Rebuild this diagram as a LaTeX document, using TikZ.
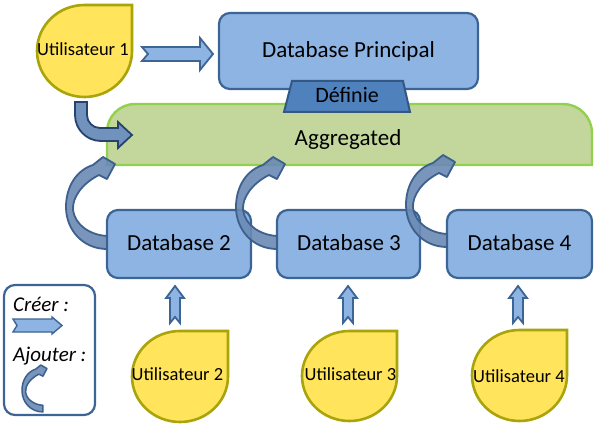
\documentclass[tikz,border=0pt]{standalone}
\usepackage{fontspec}
\setmainfont{Carlito}
\definecolor{dbfill}{RGB}{142,180,227}
\definecolor{dbline}{RGB}{60,100,148}
\definecolor{deffill}{RGB}{79,129,189}
\definecolor{defline}{RGB}{52,88,132}
\definecolor{aggfill}{RGB}{195,214,155}
\definecolor{aggline}{RGB}{146,208,80}
\definecolor{userfill}{RGB}{255,228,92}
\definecolor{userline}{RGB}{168,164,10}
\definecolor{curvfill}{RGB}{106,138,180}
\definecolor{curvline}{RGB}{62,96,140}
\definecolor{bentfill}{RGB}{114,146,190}
\definecolor{bentline}{RGB}{38,66,110}
\tikzset{
  dbbox/.style={draw=dbline, fill=dbfill, line width=2.2pt, rounded corners=11pt, inner sep=0pt},
  userdrop/.style={draw=userline, fill=userfill, line width=2.6pt},
  usertxt/.style={anchor=base, font=\fontsize{18.5}{20}\selectfont, inner sep=0pt},
  bigtxt/.style={anchor=base, font=\fontsize{23}{25}\selectfont, inner sep=0pt},
  legtxt/.style={anchor=base west, font=\itshape\fontsize{21}{23}\selectfont, inner sep=0pt},
  crt/.style={draw=dbline, fill=dbfill, line width=1.8pt, line join=miter},
  curv/.style={draw=curvline, fill=curvfill, fill opacity=0.9, line width=1.8pt, line join=round},
  bent/.style={draw=bentline, fill=bentfill, line width=1.8pt, line join=miter},
}
\newcommand{\crvarrow}[1]{\draw[curv,#1] (107,249) .. controls (83,249) and (66,230) .. (66,207)
  .. controls (66,186) and (77,170) .. (93,165) -- (103,157) -- (115,164) -- (107,179) -- (99,175)
  .. controls (83,183) and (72,197) .. (73,210) .. controls (75,225) and (90,235) .. (107,236) -- cycle;}
\newcommand{\uparr}[1]{\draw[crt,#1] (175,286) -- (184,298) -- (180,298) -- (180,323) -- (175,317)
  -- (170,323) -- (170,298) -- (166,298) -- cycle;}
\newcommand{\udrop}[4]{% x0 y0 x1 y1
  \draw[userdrop] (#3,#2) -- (#3,{(#2+#4)/2})
   arc[start angle=0, end angle=270, x radius={(#3-#1)/2}, y radius={(#4-#2)/2}] -- cycle;}
\begin{document}
\begin{tikzpicture}[x=1pt,y=-1pt]
\useasboundingbox (0,0) rectangle (615,430);
% Aggregated band
\draw[draw=aggline, fill=aggfill, line width=2.4pt] (107,165) -- (107,132)
  arc[start angle=180, end angle=270, radius=28] -- (563,104)
  arc[start angle=270, end angle=360, radius=29] -- (592,165) -- cycle;
\node[bigtxt] (agg) at (348,146) {Aggregated};
% Database principal
\node[dbbox, minimum width=259pt, minimum height=76pt] (dbp) at (348.5,51) {};
\node[bigtxt] (dbptxt) at (348.5,58) {Database Principal};
% Definie
\draw[draw=defline, fill=deffill, line width=2pt] (292,81) -- (403,81) -- (410,112) -- (284,112) -- cycle;
\node[bigtxt, font=\fontsize{22}{24}\selectfont] (def) at (347,103) {Définie};
% Database 2-4
\node[dbbox, minimum width=144pt, minimum height=68pt] (db2) at (179,244) {};
\node[dbbox, minimum width=143pt, minimum height=68pt] (db3) at (348.5,244) {};
\node[dbbox, minimum width=145pt, minimum height=68pt] (db4) at (519.5,244) {};
\node[bigtxt] (db2t) at (179,251) {Database 2};
\node[bigtxt] (db3t) at (349,251) {Database 3};
\node[bigtxt] (db4t) at (519.5,251) {Database 4};
% curved "Ajouter" arrows
\crvarrow{}
\crvarrow{shift={(170,0)}}
\crvarrow{shift={(340,-2)}}
% users
\udrop{37}{5}{132}{97}
\node[usertxt] (u1) at (83,55.7) {Utilisateur 1};
\udrop{132}{331}{228}{422}
\node[usertxt] (u2) at (177.5,380) {Utilisateur 2};
\udrop{302}{331}{397}{421}
\node[usertxt] (u3) at (350.5,380) {Utilisateur 3};
\udrop{472}{330}{567}{421}
\node[usertxt] (u4) at (519,382) {Utilisateur 4};
% create arrow user1 -> db principal
\draw[crt] (142,47) -- (200,47) -- (200,38) -- (213,54) -- (200,70) -- (200,61) -- (142,61) -- (148,54) -- cycle;
% bent arrow user1 -> aggregated
\draw[bent] (75,102) -- (75,115) arc[start angle=180, end angle=90, radius=26] -- (118,141)
  -- (118,148) -- (132,135) -- (118,122) -- (118,128) -- (100,128)
  arc[start angle=90, end angle=180, radius=13] -- (87,102) -- cycle;
% up arrows
\uparr{}
\uparr{shift={(173,0)}}
\uparr{shift={(343,0)}}
% legend
\node[draw=dbline, fill=white, line width=2.2pt, rounded corners=11pt, minimum width=91pt, minimum height=130pt] (leg) at (49.5,350) {};
\node[legtxt] (lc) at (13,311.7) {Créer :};
\draw[crt, line width=1.4pt] (13,319) -- (52,319) -- (52,317) -- (62,325.5) -- (52,334) -- (52,332) -- (13,332) -- (17,325.5) -- cycle;
\node[legtxt] (la) at (13,361) {Ajouter :};
\crvarrow{shift={(-11.66,284.93)}, scale=0.51, line width=1.5pt}
\end{tikzpicture}
\end{document}
